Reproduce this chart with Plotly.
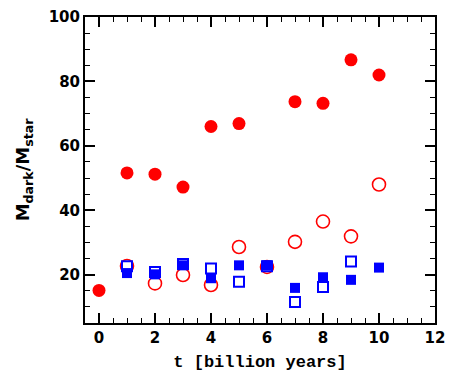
import plotly.graph_objects as go

# Data
t_filled_circle = [0, 1, 2, 3, 4, 5, 7, 8, 9, 10]
v_filled_circle = [15.1, 51.6, 51.2, 47.2, 66.0, 66.9, 73.7, 73.2, 86.7, 82.0]

t_open_circle = [1, 2, 3, 4, 5, 6, 7, 8, 9, 10]
v_open_circle = [22.7, 17.3, 19.9, 16.8, 28.6, 22.4, 30.2, 36.5, 31.9, 48.0]

t_open_square = [1, 2, 3, 4, 5, 6, 7, 8, 9]
v_open_square = [22.6, 20.8, 23.3, 21.9, 17.8, 22.6, 11.5, 16.2, 24.1]

t_filled_square = [1, 2, 3, 4, 5, 6, 7, 8, 9, 10]
v_filled_square = [20.5, 20.1, 22.9, 18.9, 22.9, 22.9, 15.9, 19.2, 18.4, 22.2]

x_ticks = [0, 2, 4, 6, 8, 10, 12]
y_ticks = [20, 40, 60, 80, 100]

RED = "#ff0000"
BLUE = "#0000ff"

fig = go.Figure()
fig.add_trace(go.Scatter(x=t_filled_circle, y=v_filled_circle, mode="markers",
                         marker=dict(symbol="circle", size=13, color=RED, line=dict(width=0))))
fig.add_trace(go.Scatter(x=t_open_circle, y=v_open_circle, mode="markers",
                         marker=dict(symbol="circle-open", size=13, color=RED, line=dict(width=1.6, color=RED))))
fig.add_trace(go.Scatter(x=t_open_square, y=v_open_square, mode="markers",
                         marker=dict(symbol="square-open", size=10, color=BLUE, line=dict(width=2, color=BLUE))))
fig.add_trace(go.Scatter(x=t_filled_square, y=v_filled_square, mode="markers",
                         marker=dict(symbol="square", size=10, color=BLUE, line=dict(width=0))))

axis_common = dict(
    showgrid=False, zeroline=False, showline=True, linecolor="black", linewidth=2,
    mirror="allticks", ticks="inside", ticklen=10, tickwidth=1.6, tickcolor="black",
    tickfont=dict(family="DejaVu Sans", size=15, color="black", weight="bold"),
    automargin=False,
)

fig.update_xaxes(range=[-0.5, 12], tickvals=x_ticks, ticktext=[str(v) for v in x_ticks],
                 minor=dict(dtick=0.5, tick0=0, ticks="inside", ticklen=5, tickwidth=1.4, tickcolor="black"),
                 title=dict(text="t [billion years]",
                            font=dict(family="Liberation Mono", size=17, color="black", weight="bold"),
                            standoff=9),
                 **axis_common)
fig.update_yaxes(range=[5, 100], tickvals=y_ticks, ticktext=[str(v) for v in y_ticks],
                 minor=dict(dtick=5, tick0=0, ticks="inside", ticklen=5, tickwidth=1.4, tickcolor="black"),
                 title=dict(text="M<sub>dark</sub>/M<sub>star</sub>",
                            font=dict(family="DejaVu Sans", size=18, color="black", weight="bold"),
                            standoff=14),
                 **axis_common)

# page body has an 8px default margin, so the figure is offset by (8, 8)
fig.update_layout(
    width=446, height=377,
    margin=dict(l=77, r=19, t=9, b=62),
    paper_bgcolor="white", plot_bgcolor="white",
    showlegend=False,
)

fig.write_html("out.html")
